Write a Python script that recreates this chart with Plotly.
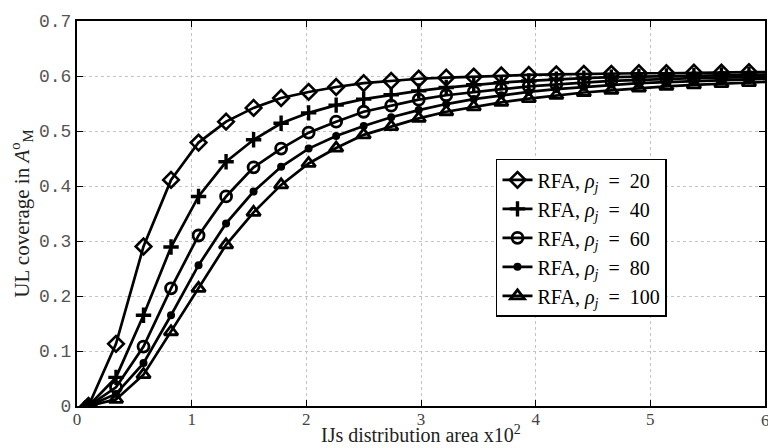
import plotly.graph_objects as go

# IJs distribution area (x10^2)
area = [0.10, 0.34, 0.58, 0.82, 1.06, 1.30, 1.54, 1.78, 2.02, 2.26, 2.50, 2.74, 2.98,
        3.22, 3.46, 3.70, 3.94, 4.18, 4.42, 4.66, 4.90, 5.14, 5.38, 5.62, 5.86, 6.10]

# UL coverage for each IJ density rho_j
cov_rho20 = [0.0, 0.113, 0.290, 0.411, 0.479, 0.517, 0.542, 0.560, 0.571, 0.580, 0.587, 0.591, 0.595,
             0.597, 0.599, 0.601, 0.602, 0.603, 0.604, 0.604, 0.605, 0.605, 0.606, 0.606, 0.607, 0.607]
cov_rho40 = [0.0, 0.052, 0.165, 0.289, 0.381, 0.444, 0.484, 0.514, 0.533, 0.547, 0.558, 0.566, 0.573,
             0.579, 0.584, 0.588, 0.591, 0.594, 0.596, 0.598, 0.599, 0.600, 0.601, 0.602, 0.603, 0.603]
cov_rho60 = [0.0, 0.034, 0.108, 0.214, 0.310, 0.381, 0.434, 0.468, 0.497, 0.517, 0.535, 0.546, 0.557,
             0.565, 0.571, 0.576, 0.581, 0.585, 0.588, 0.591, 0.593, 0.595, 0.596, 0.597, 0.598, 0.599]
cov_rho80 = [0.0, 0.022, 0.078, 0.165, 0.256, 0.332, 0.390, 0.435, 0.468, 0.491, 0.509, 0.525, 0.538,
             0.549, 0.558, 0.565, 0.571, 0.576, 0.580, 0.584, 0.587, 0.589, 0.591, 0.593, 0.594, 0.595]
cov_rho100 = [0.0, 0.012, 0.057, 0.135, 0.214, 0.293, 0.352, 0.402, 0.441, 0.469, 0.493, 0.508, 0.523,
              0.535, 0.544, 0.552, 0.559, 0.565, 0.570, 0.574, 0.578, 0.581, 0.584, 0.586, 0.588, 0.590]

rho_values = [20, 40, 60, 80, 100]
series = [cov_rho20, cov_rho40, cov_rho60, cov_rho80, cov_rho100]

x_ticks = [0, 1, 2, 3, 4, 5, 6]
y_ticks = [0, 0.1, 0.2, 0.3, 0.4, 0.5, 0.6, 0.7]
y_tick_text = ["0", "0.1", "0.2", "0.3", "0.4", "0.5", "0.6", "0.7"]

marker_styles = [
    dict(symbol="diamond-open", size=12, line=dict(width=2.6, color="black")),
    dict(symbol="cross-thin-open", size=11, line=dict(width=3.4, color="black")),
    dict(symbol="circle-open", size=11, line=dict(width=2.8, color="black")),
    dict(symbol="circle", size=8, line=dict(width=0, color="black")),
    dict(symbol="triangle-up-open", size=12, line=dict(width=2.8, color="black")),
]

EQ = "\u2002=\u2002"

fig = go.Figure()
for rho, ys, mk in zip(rho_values, series, marker_styles):
    fig.add_trace(go.Scatter(
        x=area, y=ys, mode="lines+markers",
        name=f"RFA, <i>\u03c1<sub>j</sub></i>{EQ}{rho}",
        line=dict(color="black", width=2.7),
        marker=dict(color="black", **mk),
    ))

axis_common = dict(
    showline=True, linecolor="black", linewidth=2, mirror="ticks",
    ticks="inside", ticklen=6, tickcolor="black", tickwidth=1,
    showgrid=True, gridcolor="#c4c4c4", griddash="dot", gridwidth=1,
    zeroline=False,
)

fig.update_xaxes(
    range=[0, 6], tickvals=x_ticks, ticklabelstandoff=-3,
    tickfont=dict(family="Liberation Serif", size=17, color="#444"),
    **axis_common,
)
fig.update_yaxes(
    range=[0, 0.7], tickvals=y_ticks, ticktext=y_tick_text,
    tickfont=dict(family="Liberation Mono", size=18, color="#555"),
    title=dict(text="UL coverage in <i>A</i><sup>o</sup><sub>M</sub>",
               font=dict(family="Liberation Serif", size=21, color="#222"), standoff=4),
    **axis_common,
)

# x-axis title and the right-edge tick label, which sits on the page border
fig.add_annotation(
    text="IJs distribution area x10<sup>2</sup>", xref="paper", yref="paper",
    x=0.5, y=-0.108, xanchor="center", yanchor="bottom", showarrow=False,
    font=dict(family="Liberation Serif", size=20, color="#222"),
)
fig.add_annotation(
    text="6", xref="x", yref="paper", x=6, y=-0.008, xanchor="center", yanchor="top",
    showarrow=False, font=dict(family="Liberation Serif", size=17, color="#444"),
)

fig.update_layout(
    width=768, height=448,
    margin=dict(l=77, r=1, t=21, b=42),
    paper_bgcolor="white", plot_bgcolor="white",
    legend=dict(
        x=0.609, y=0.642, xanchor="left", yanchor="top",
        bgcolor="white", bordercolor="black", borderwidth=1.5,
        font=dict(family="Liberation Serif", size=20, color="black"),
        tracegroupgap=0, itemwidth=30,
    ),
    showlegend=True,
)

fig.write_html("out.html")
